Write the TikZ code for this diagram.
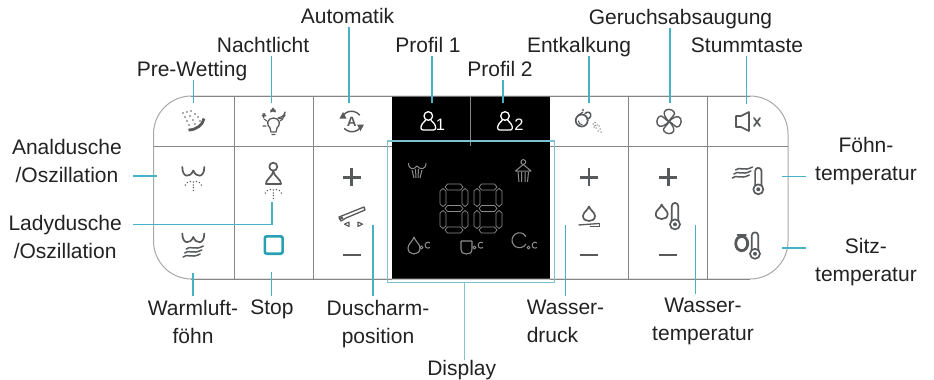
\documentclass[tikz,border=0pt]{standalone}
\usepackage{fontspec}
\setmainfont{Liberation Sans}
\definecolor{iconc}{HTML}{58595B}
\definecolor{leadc}{HTML}{45B2C6}
\definecolor{framec}{HTML}{7CC3CF}
\definecolor{dispc}{HTML}{8C8C8C}
\definecolor{gridc}{HTML}{858585}
\definecolor{borderc}{HTML}{A8A8A8}
\definecolor{txtc}{HTML}{222222}
\definecolor{stopc}{HTML}{26A0B2}
\tikzset{
  lbl/.style={font=\fontsize{21}{28}\selectfont,text=txtc,inner sep=0pt,align=center},
  toplbl/.style={lbl,anchor=base,text depth=3.5pt},
  botlbl/.style={lbl,anchor=north,inner ysep=4pt},
  leader/.style={draw=leadc,line width=1.25pt},
  gridline/.style={draw=gridc,line width=0.9pt},
  ic/.style={draw=iconc,line width=1.7pt,line cap=round,line join=round},
  icthin/.style={draw=iconc,line width=1.1pt,line cap=round,line join=round},
  dsp/.style={draw=dispc,line width=0.7pt,line join=round},
  plusminus/.style={draw=iconc,line width=2.6pt},
  dropshape/.pic={\draw[ic] (0,-7.5) .. controls (1,-4) and (6,-1.5) .. (6,2) .. controls (6,5.5) and (3,7) .. (0,7) .. controls (-3,7) and (-6,5.5) .. (-6,2) .. controls (-6,-1.5) and (-1,-4) .. cycle;},
  thermo/.pic={
    \draw[ic] (-3.2,5) -- (-3.2,-9.5) arc[start angle=180,end angle=360,radius=3.2] -- (3.2,5);
    \draw[ic] (0,8.8) circle[radius=5];
    \fill[iconc] (0,8.8) circle[radius=2];
  },
  butt/.pic={\draw[ic] (-11,-3) .. controls (-11,8) and (-3,8) .. (0,0.5) .. controls (3,8) and (11,8) .. (11,-3);},
  spray/.pic={
    \foreach \a/\b in {-8/2,-6/-0.5,-3/-1.5,0/-1,3/-1.5,6/-0.5,8/2,0/2,0/4.5,0/7.5}{\fill[iconc] (\a,\b) circle[radius=0.8];}
  },
  waves/.pic={
    \foreach \d in {0,4,8}{\draw[ic,line width=1.5pt] (-7-\d*0.4,\d) .. controls (-3-\d*0.4,\d-4) and (1-\d*0.4,\d+2) .. (10-\d*0.4,\d-3);}
  },
  person/.pic={
    \draw[draw=white,line width=1.3pt] (0,0) circle[radius=4.3];
    \draw[draw=white,line width=1.3pt,line join=round] (-2.5,4) .. controls (-5,6) and (-7.4,9) .. (-7.4,12) .. controls (-7.4,13.5) and (-6,14) .. (-5,14) -- (5,14) .. controls (6,14) and (7.4,13.5) .. (7.4,12) .. controls (7.4,9) and (5,6) .. (2.5,4);
  },
  digit/.pic={
    \foreach \y in {-21.5,0,21.5}{\draw[dsp] (-9,\y) -- (-6.5,\y-3) -- (6.5,\y-3) -- (9,\y) -- (6.5,\y+3) -- (-6.5,\y+3) -- cycle;}
    \foreach \x in {-11,11}\foreach \y in {-11,11}{\draw[dsp] (\x,\y-9) -- (\x+3,\y-6.5) -- (\x+3,\y+6.5) -- (\x,\y+9) -- (\x-3,\y+6.5) -- (\x-3,\y-6.5) -- cycle;}
  },
  smallc/.pic={
    \draw[dsp,line width=1pt] (-3.5,-2.5) circle[radius=1.5];
    \draw[dsp,line width=1pt] (5,-2.5) arc[start angle=50,end angle=310,radius=3];
  },
}
\begin{document}
\begin{tikzpicture}[x=1pt,y=-1pt]
\useasboundingbox (0,0) rectangle (934,380);
% panel
\fill[black] (392.3,96) rectangle (549.7,279);
\draw[draw=borderc,line width=1pt,rounded corners=38pt] (153.5,96) rectangle (788,279);
\draw[gridline] (191,96) -- (392.3,96) (549.7,96) -- (750,96);
\draw[gridline] (191,279) -- (392.3,279) (549.7,279) -- (750,279);
\draw[gridline] (153.5,146) -- (392.3,146) (549.7,146) -- (788,146);
\foreach \x in {234,313,628.7,707}{\draw[gridline] (\x,96) -- (\x,279);}
\draw[gridline,line width=0.8pt] (470.7,96) -- (470.7,146);
\draw[draw=framec,line width=1.3pt] (387.7,141) rectangle (554.7,282.7);

% pre-wetting icon
\draw[iconc,line width=2.8pt] (188.5,130) .. controls (196,130) and (203,125) .. (204,118.5);
\foreach \a/\b in {183/113,185/117,187/121,189/125,187/112,190/116,193/120,195/124,191/111,195/114,198/117,200/121}{\fill[iconc] (\a,\b) circle[radius=0.8];}
% night light icon
\draw[ic,line width=1.3pt] (273.5,118) .. controls (267,118) and (266,125) .. (270,128) -- (271,132) -- (276,132) -- (277,128) .. controls (281,125) and (280,118) .. (273.5,118);
\draw[icthin] (272,134.5) -- (275,134.5) (264,119) -- (267,121) (283,119) -- (280,121) (263,126) -- (266,126);
\draw[icthin,line width=.9pt] (263,113.5) -- (266,116) -- (262,116) -- (265,113.5) -- (263.5,118) -- cycle;
\draw[icthin,line width=.9pt] (273,108) -- (275.5,112) -- (270.5,110) -- (275.5,110) -- (270.5,112) -- cycle;
\draw[icthin] (285,112) .. controls (286,118) and (281,120) .. (278,118) .. controls (281,118) and (284,116) .. (285,112);
% automatic icon
\node[font=\bfseries\fontsize{13.5}{13.5}\selectfont,text=iconc,inner sep=0pt] (autoA) at (351.7,121.7) {A};
\draw[ic,line width=1.4pt] (343.5,115) arc[start angle=-140,end angle=-40,radius=10.5];
\draw[ic,line width=1.4pt] (360,128) arc[start angle=40,end angle=135,radius=10.5];
\fill[iconc] (343,112) -- (339.5,118.5) -- (346.5,118.5) -- cycle;
\fill[iconc] (360.5,131) -- (364,124.5) -- (357,124.5) -- cycle;
% anal
\pic at (193.3,170) {butt};
\pic at (193.3,183) {spray};
% lady
\draw[ic] (273.3,166.7) circle[radius=4];
\draw[ic] (273.3,171) .. controls (273.3,176) and (265,180) .. (266,184) -- (281,184) .. controls (282,180) and (273.3,176) .. (273.3,171);
\pic at (273.3,191) {spray};
% warm
\pic at (193.3,236.5) {butt};
\pic at (193.3,249) {waves};
% stop
\draw[draw=stopc,line width=2.6pt,rounded corners=2pt] (264.8,236.3) rectangle (282.6,253.7);
% plus/minus
\foreach \x in {351.7,589,668.3}{
  \draw[plusminus] (\x-9,177.3) -- (\x+9,177.3) (\x,168.3) -- (\x,186.3);
  \draw[plusminus] (\x-9,255) -- (\x+9,255);
}
% shower arm
\draw[iconc,line width=1.3pt,line join=round] (339,217) -- (364,207) -- (365,210) -- (346,218) -- (341,221) -- cycle;
\draw[iconc,line width=2pt] (339,219) -- (343,217.5);
\draw[icthin] (349,222) -- (349,226.5) -- (344.5,224.2) -- cycle;
\draw[icthin] (358,222) -- (358,226.5) -- (362.5,224.2) -- cycle;
% profiles
\pic at (428.3,116) {person};
\pic at (505,116) {person};
\node[font=\fontsize{16.5}{16.5}\selectfont,text=white,inner sep=0pt,anchor=base] (p1) at (440.5,130) {1};
\node[font=\fontsize{16.5}{16.5}\selectfont,text=white,inner sep=0pt,anchor=base] (p2) at (519,130) {2};
% display icons
\draw[dsp,line width=1pt] (408.5,163) .. controls (408.5,170) and (414,170) .. (417,166) .. controls (420,170) and (426,170) .. (426,163);
\draw[dsp,line width=1pt] (412,170) -- (414,178) (415.5,169) -- (416,178) (418.5,169) -- (418,178) (422,170) -- (420,178);
\draw[dsp,line width=1pt] (523.3,162) circle[radius=2.4];
\draw[dsp,line width=1pt] (523.3,164.5) -- (515.5,171) -- (531,171) -- cycle;
\draw[dsp,line width=1pt] (518,172) -- (519,182) (521.5,172) -- (521.5,182) (525,172) -- (525,182) (528.5,172) -- (527.5,182);
\pic at (454,208.5) {digit};
\pic at (488,208.5) {digit};
\draw[dsp,line width=1.1pt] (414,237) .. controls (415,241) and (420,244) .. (420,248) .. controls (420,252) and (417,254) .. (414,254) .. controls (411,254) and (408,252) .. (408,248) .. controls (408,244) and (413,241) .. cycle;
\pic at (425,250) {smallc};
\draw[dsp,line width=1.1pt] (461,241) -- (472,241) (461,241) -- (461,249) .. controls (461,253) and (464,254) .. (466.5,254) .. controls (469,254) and (472,253) .. (472,249) -- (472,241);
\pic at (478,250) {smallc};
\draw[dsp,line width=1.1pt] (526,244) arc[start angle=30,end angle=330,radius=7.5];
\pic at (532,250) {smallc};
% Entkalkung
\draw[ic] (581.7,120.5) circle[radius=6];
\draw[ic,line width=1.5pt] (585,113.5) .. controls (588,110.5) and (592,113) .. (590.5,116.5) .. controls (590,118) and (588.5,119) .. (587,119);
\draw[ic,line width=1.2pt] (578,115.5) -- (583,112);
\fill[iconc] (583,110) circle[radius=1.2];
\draw[icthin] (578.5,121) .. controls (578.5,123.5) and (580,124.5) .. (582,124.5);
\foreach \a/\b in {593/124,595/122.5,597/125,594/127,596/128,599/126,600/129,598/131,601/132,595/125.5}{\fill[iconc!80] (\a,\b) circle[radius=0.75];}
% fan
\foreach \r in {0,90,180,270}{
  \draw[icthin,line width=1.4pt,rotate around={\r:(669,121.5)}] (669,121.5) .. controls (665,118) and (662,112) .. (666,110) .. controls (670,108) and (675,111) .. (674.5,114) .. controls (674,116.5) and (671,117) .. (669,121.5);
}
% speaker
\draw[ic] (736,116) -- (741,116) -- (749,112) -- (749,131) -- (741,127) -- (736,127) -- cycle;
\draw[ic] (754,118) -- (760,126) (760,118) -- (754,126);
% pressure
\pic at (589,214) {dropshape};
\draw[iconc,line width=1.3pt] (578.5,225) -- (599,223.5);
\draw[iconc,line width=0.9pt] (590,226) -- (599,226) -- (599,223);
% water temp
\pic at (661.7,212) {dropshape};
\pic at (675,215.6) {thermo};
% foehn temp
\pic at (742.5,170) {waves};
\pic at (758.3,180.5) {thermo};
% seat temp
\draw[ic,line width=1.8pt] (737.5,235) -- (746,235);
\draw[ic,line width=2.8pt] (741.7,243.5) ellipse[x radius=6,y radius=7.2];
\pic at (755,245) {thermo};

% labels
\node[toplbl] (prewet) at (192,76.7) {Pre-Wetting};
\node[toplbl] (night) at (263,52.5) {Nachtlicht};
\node[toplbl] (auto) at (347.5,23.5) {Automatik};
\node[toplbl] (prof1) at (428,52.5) {Profil 1};
\node[toplbl] (prof2) at (500,76.7) {Profil 2};
\node[toplbl] (entk) at (579,52.5) {Entkalkung};
\node[toplbl] (geruch) at (680.5,24) {Geruchsabsaugung};
\node[toplbl] (stumm) at (747,52.5) {Stummtaste};
\node[lbl,anchor=east,inner xsep=11pt] (anal) at (133,161) {Analdusche\\/Oszillation};
\node[lbl,anchor=east,inner xsep=11pt] (ladyl) at (133,236.5) {Ladydusche\\/Oszillation};
\node[botlbl] (warm) at (193,296) {Warmluft-\\föhn};
\node[botlbl] (stopl) at (272,296) {Stop};
\node[botlbl] (dusch) at (378,296) {Duscharm-\\position};
\node[toplbl] (displ) at (461.7,375) {Display};
\node[botlbl,align=left] (wdruck) at (565.5,296) {Wasser-\\druck};
\node[botlbl] (wtemp) at (703,294) {Wasser-\\temperatur};
\node[lbl,anchor=west,inner xsep=9pt] (foehn) at (806,161.5) {Föhn-\\temperatur};
\node[lbl,anchor=west,inner xsep=9pt] (sitz) at (806,262.5) {Sitz-\\temperatur};

% connector ends on the panel
\coordinate (tPre) at (193.5,103);
\coordinate (tNight) at (271.7,103);
\coordinate (tAuto) at (349,103);
\coordinate (tP1) at (432,103);
\coordinate (tP2) at (503,103);
\coordinate (tEnt) at (589,103);
\coordinate (tGer) at (670,103);
\coordinate (tStu) at (746.7,104);
\coordinate (tAnal) at (157,176);
\coordinate (tLady) at (272,201.5);
\coordinate (tWarm) at (193,273);
\coordinate (tStop) at (271.5,272);
\coordinate (tDus) at (373,225);
\coordinate (tDisp) at (464.7,283);
\coordinate (tDruck) at (565.7,225);
\coordinate (tTemp) at (695.7,225);
\coordinate (tFoehn) at (782,176.3);
\coordinate (tSitz) at (782,248);
\foreach \a/\b in {prewet/tPre,night/tNight,auto/tAuto,prof1/tP1,prof2/tP2,entk/tEnt,geruch/tGer,stumm/tStu}{
  \draw[leader] (\a.south -| \b) -- (\b);
}
\draw[leader] (anal.east |- tAnal) -- (tAnal);
\draw[leader] (ladyl.east |- 0,224.5) -- (272,224.5) -- (tLady);
\foreach \a/\b in {warm/tWarm,stopl/tStop,dusch/tDus,wdruck/tDruck,wtemp/tTemp}{
  \draw[leader] (\a.north -| \b) -- (\b);
}
\draw[leader,draw=framec] (tDisp) -- (displ.north -| tDisp);
\draw[leader] (foehn.west |- tFoehn) -- (tFoehn);
\draw[leader] (sitz.west |- tSitz) -- (tSitz);
\end{tikzpicture}
\end{document}
